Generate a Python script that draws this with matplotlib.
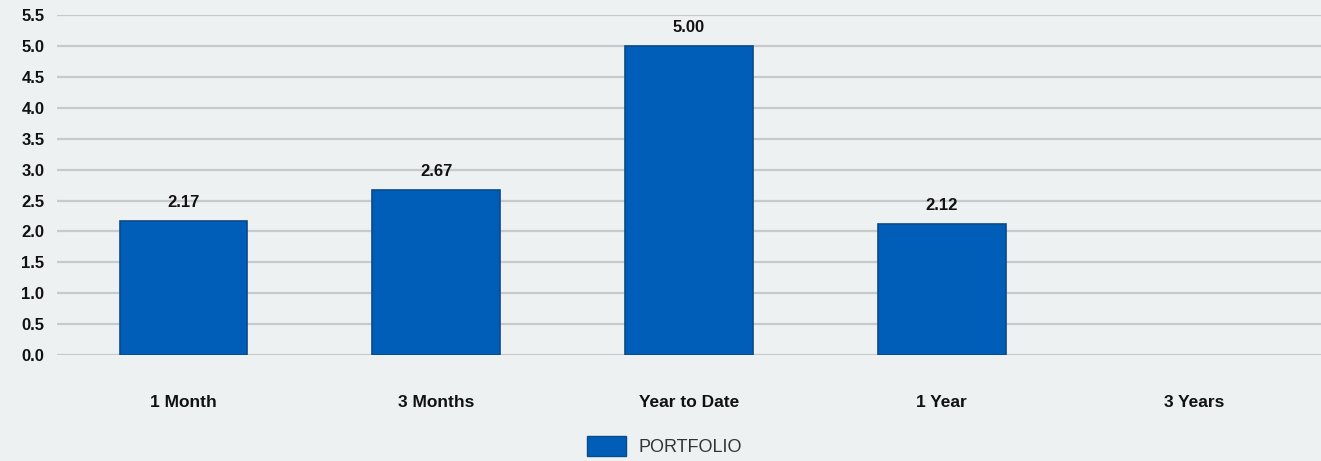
import matplotlib.pyplot as plt
import matplotlib.patches as mpatches
import numpy as np

plt.rcParams['font.family'] = ['Liberation Sans', 'DejaVu Sans']

categories = ['1 Month', '3 Months', 'Year to Date', '1 Year', '3 Years']
portfolio = [2.17, 2.67, 5.00, 2.12, np.nan]
yticks = [0.0, 0.5, 1.0, 1.5, 2.0, 2.5, 3.0, 3.5, 4.0, 4.5, 5.0, 5.5]

bg = '#eef1f2'
bar_color = '#005eb8'
edge_color = '#0a4a8a'

fig = plt.figure(figsize=(13.21, 4.61), dpi=100, facecolor=bg)
ax = fig.add_axes([0.0431, 0.230, 0.9569, 0.737])
ax.set_facecolor(bg)

x = np.arange(len(categories))
has_val = [not np.isnan(v) for v in portfolio]
bx = [xi for xi, ok in zip(x, has_val) if ok]
bv = [v for v, ok in zip(portfolio, has_val) if ok]
ax.bar(bx, bv, width=0.505, color=bar_color, edgecolor=edge_color,
       linewidth=1.2, zorder=3)

for xi, v in zip(bx, bv):
    ax.annotate(f'{v:.2f}', (xi, v), xytext=(0, 8), textcoords='offset points',
                ha='center', va='bottom', fontsize=12, fontweight='bold',
                color='#111111')

ax.set_xlim(-0.5, len(categories) - 0.5)
ax.set_ylim(0, 5.5)
ax.set_yticks(yticks)
ax.set_yticklabels([f'{t:.1f}' for t in yticks], fontsize=12, fontweight='bold',
                   color='#111111')
ax.set_xticks(x)
ax.set_xticklabels(categories, fontsize=12.5, fontweight='bold', color='#111111')
ax.tick_params(axis='both', length=0)
ax.tick_params(axis='y', pad=9)
ax.tick_params(axis='x', pad=29)
ax.grid(axis='y', color='#c8c9ca', linewidth=1.6, zorder=0)
ax.set_axisbelow(True)
for s in ax.spines.values():
    s.set_visible(False)

handle = mpatches.Patch(facecolor=bar_color, edgecolor=edge_color, linewidth=1.0)
fig.legend([handle], ['PORTFOLIO'], loc='lower center', bbox_to_anchor=(0.503, -0.025),
           frameon=False, fontsize=13, handlelength=2.2, handleheight=1.3,
           handletextpad=0.7, labelcolor='#333333')

fig.savefig('out.png', dpi=100, facecolor=bg)
